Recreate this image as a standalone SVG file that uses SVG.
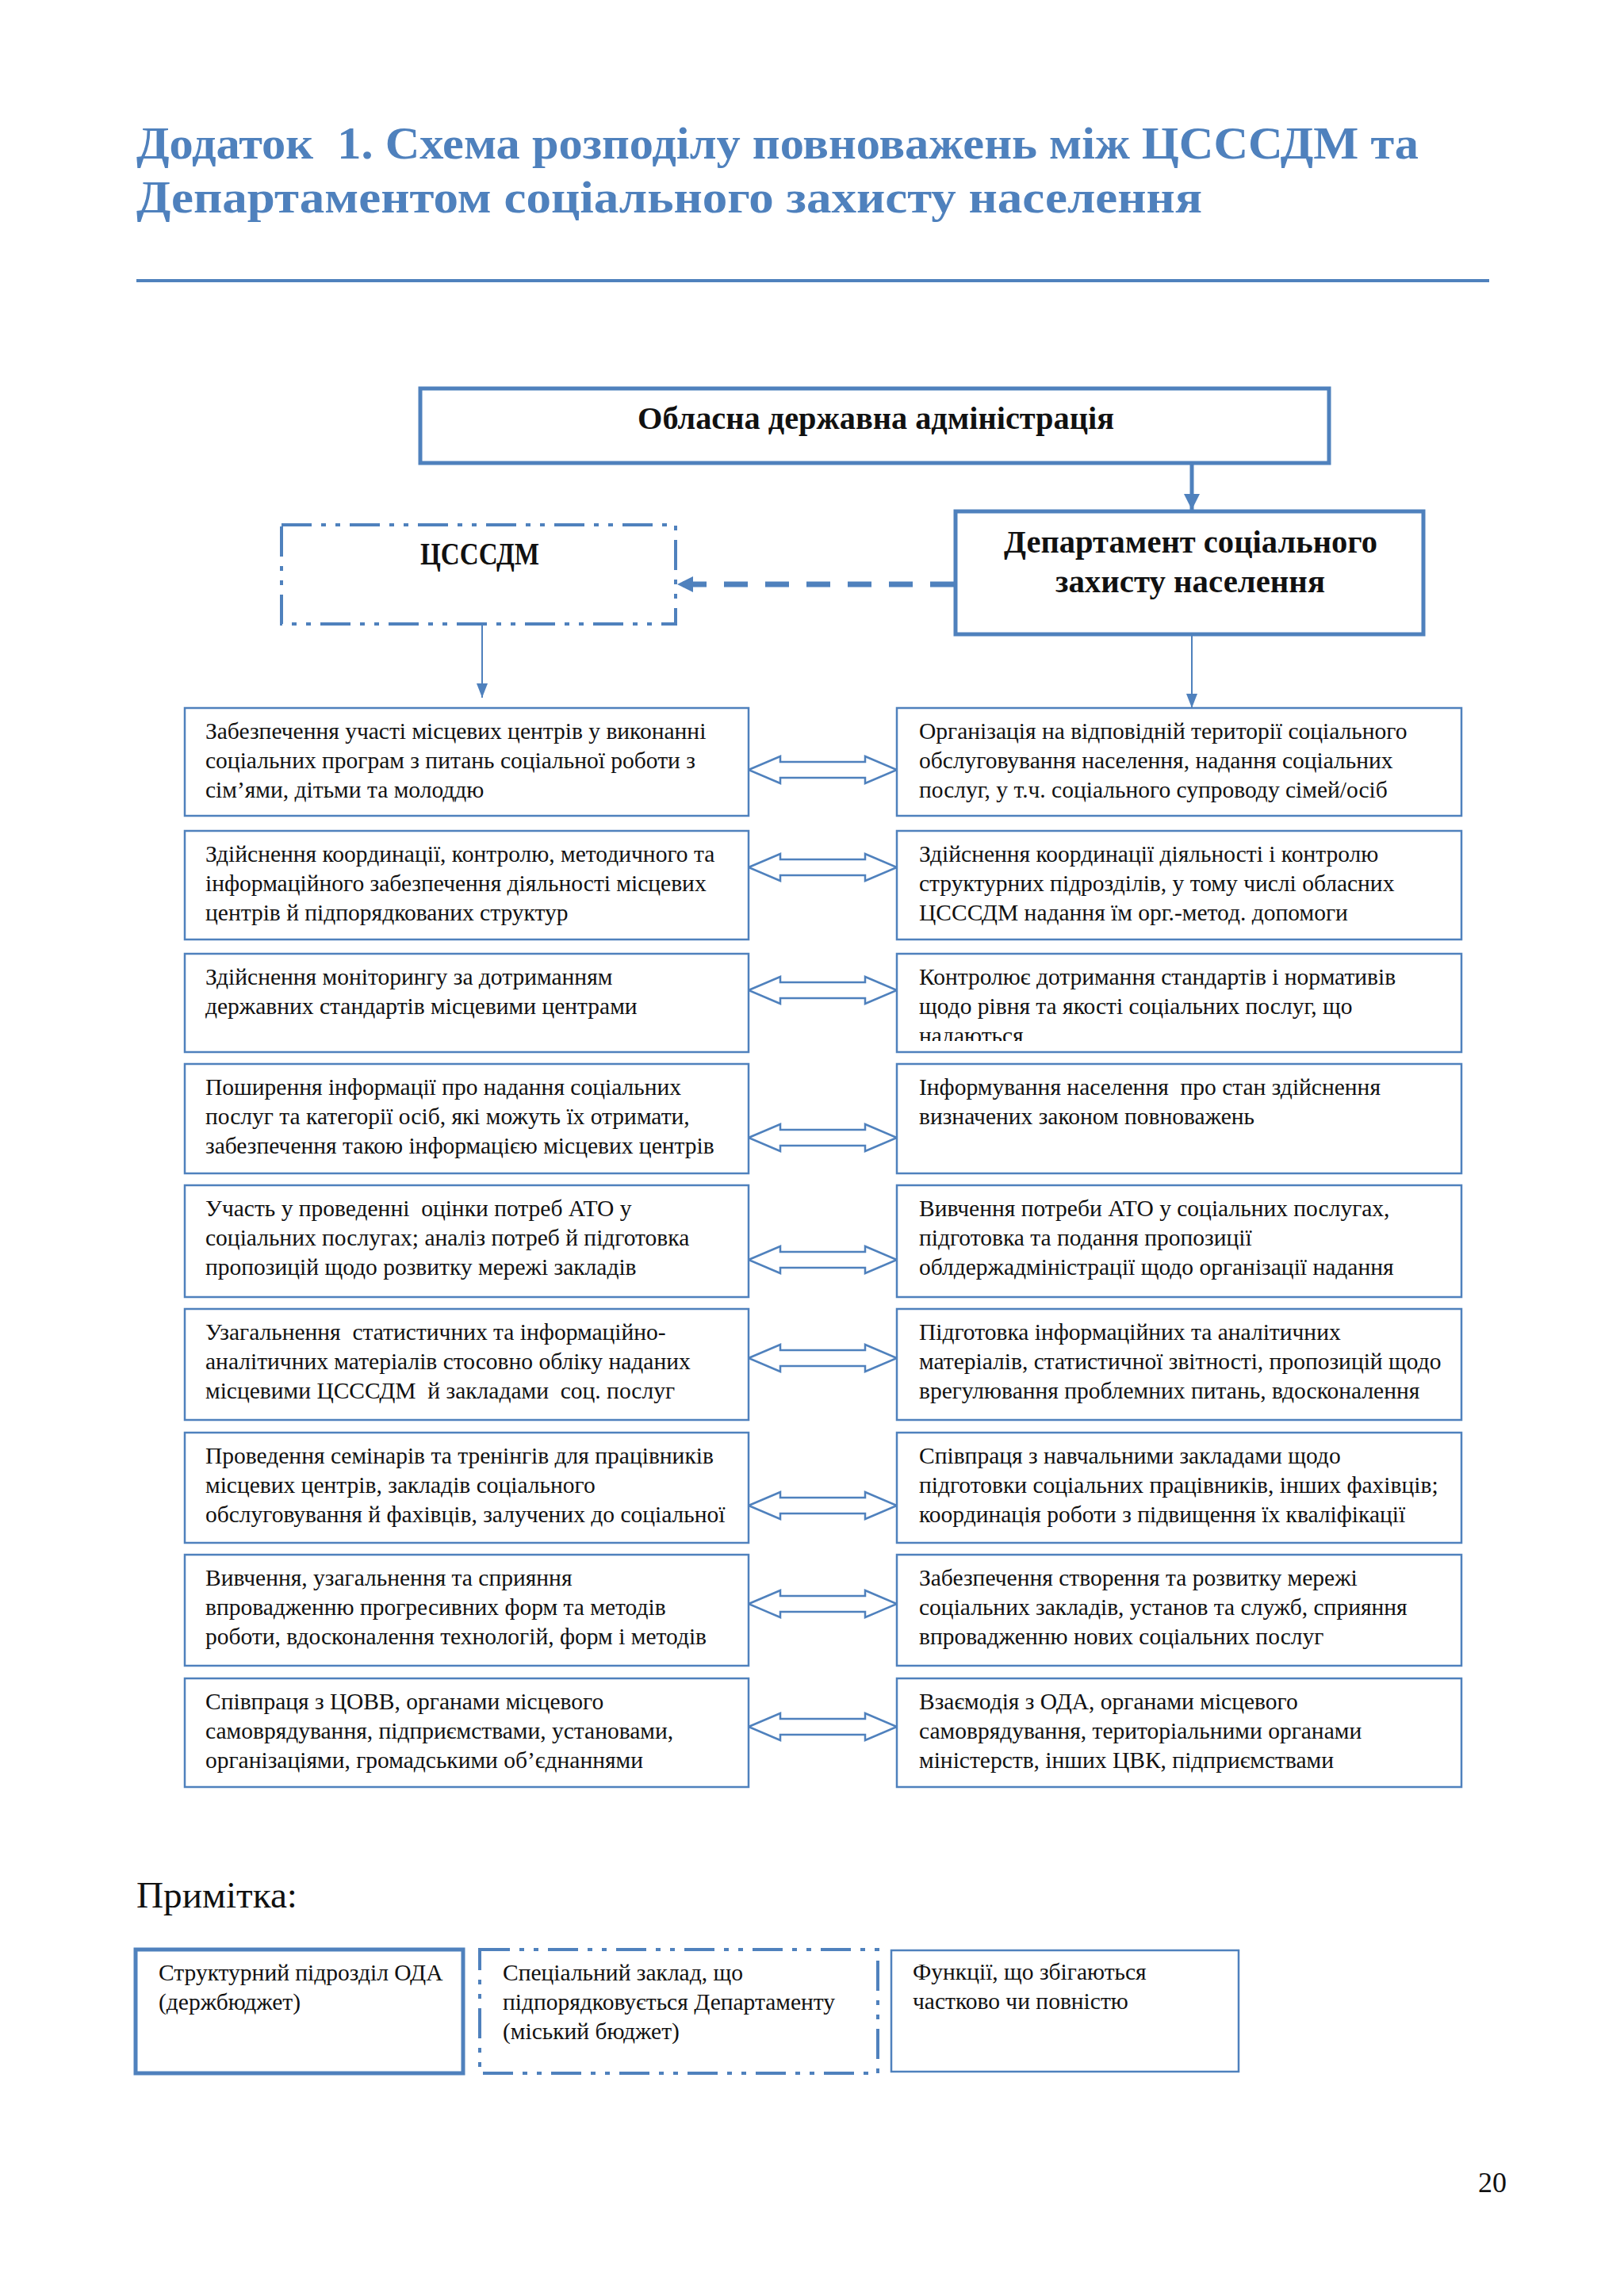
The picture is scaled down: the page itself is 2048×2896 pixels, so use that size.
<svg xmlns="http://www.w3.org/2000/svg" width="2048" height="2896" viewBox="0 0 2048 2896">
<defs>
<style>
.title{font-family:"Liberation Serif","DejaVu Serif",serif;font-weight:bold;font-size:56px;fill:#4F81BD}
.hdr{font-family:"Liberation Serif","DejaVu Serif",serif;font-weight:bold;font-size:40px;fill:#111}
.t{font-family:"Liberation Serif","DejaVu Serif",serif;font-size:29.5px;fill:#111;white-space:pre}
.box{fill:#fff;stroke:#4F81BD;stroke-width:2.5}
.thick{fill:#fff;stroke:#4F81BD;stroke-width:5}
.dd{fill:none;stroke:#4F81BD;stroke-width:4;stroke-dasharray:38 12 6 12 6 12}
.dbl{fill:#fff;stroke:#4F81BD;stroke-width:2.5;stroke-linejoin:miter}
.note{font-family:"Liberation Serif","DejaVu Serif",serif;font-size:46px;fill:#111}
</style>
<marker id="ah" markerUnits="userSpaceOnUse" markerWidth="20" markerHeight="24" refX="20" refY="12" orient="auto"><path d="M0,2 L20,12 L0,22 Z" fill="#4F81BD"/></marker>
<marker id="ahs" markerUnits="userSpaceOnUse" markerWidth="18" markerHeight="16" refX="18" refY="8" orient="auto"><path d="M0,1 L18,8 L0,15 Z" fill="#4F81BD"/></marker>
<clipPath id="c3r"><rect x="1131" y="1203" width="712" height="110"/></clipPath>
</defs>
<rect width="2048" height="2896" fill="#fff"/>
<g id="title">
<text class="title" x="172" y="200" textLength="1617" lengthAdjust="spacingAndGlyphs" style="white-space:pre">Додаток  1. Схема розподілу повноважень між ЦСССДМ та</text>
<text class="title" x="172" y="268" textLength="1344" lengthAdjust="spacingAndGlyphs">Департаментом соціального захисту населення</text>
<rect x="172" y="352" width="1706" height="4" fill="#4F81BD"/>
</g>
<g id="connectors">
<line x1="1503" y1="586" x2="1503" y2="643" stroke="#4F81BD" stroke-width="5" marker-end="url(#ah)"/>
<line x1="1203" y1="737" x2="854" y2="737" stroke="#4F81BD" stroke-width="7" stroke-dasharray="30 22" marker-end="url(#ah)"/>
<line x1="608" y1="789" x2="608" y2="880" stroke="#4F81BD" stroke-width="2" marker-end="url(#ahs)"/>
<line x1="1503" y1="802" x2="1503" y2="893" stroke="#4F81BD" stroke-width="2" marker-end="url(#ahs)"/>
<path class="dbl" d="M944,971 L984,954 L984,961 L1091,961 L1091,954 L1131,971 L1091,988 L1091,981 L984,981 L984,988 Z"/>
<path class="dbl" d="M944,1094 L984,1077 L984,1084 L1091,1084 L1091,1077 L1131,1094 L1091,1111 L1091,1104 L984,1104 L984,1111 Z"/>
<path class="dbl" d="M944,1249 L984,1232 L984,1239 L1091,1239 L1091,1232 L1131,1249 L1091,1266 L1091,1259 L984,1259 L984,1266 Z"/>
<path class="dbl" d="M944,1435 L984,1418 L984,1425 L1091,1425 L1091,1418 L1131,1435 L1091,1452 L1091,1445 L984,1445 L984,1452 Z"/>
<path class="dbl" d="M944,1589 L984,1572 L984,1579 L1091,1579 L1091,1572 L1131,1589 L1091,1606 L1091,1599 L984,1599 L984,1606 Z"/>
<path class="dbl" d="M944,1713 L984,1696 L984,1703 L1091,1703 L1091,1696 L1131,1713 L1091,1730 L1091,1723 L984,1723 L984,1730 Z"/>
<path class="dbl" d="M944,1899 L984,1882 L984,1889 L1091,1889 L1091,1882 L1131,1899 L1091,1916 L1091,1909 L984,1909 L984,1916 Z"/>
<path class="dbl" d="M944,2023 L984,2006 L984,2013 L1091,2013 L1091,2006 L1131,2023 L1091,2040 L1091,2033 L984,2033 L984,2040 Z"/>
<path class="dbl" d="M944,2178 L984,2161 L984,2168 L1091,2168 L1091,2161 L1131,2178 L1091,2195 L1091,2188 L984,2188 L984,2195 Z"/>
</g>
<g id="oda">
<rect class="thick" x="530" y="490" width="1146" height="94"/>
<text class="hdr" x="804" y="541" textLength="601" lengthAdjust="spacingAndGlyphs">Обласна державна адміністрація</text>
</g>
<g id="dept">
<rect class="thick" x="1205" y="645" width="590" height="155"/>
<text class="hdr" x="1266" y="697" textLength="471" lengthAdjust="spacingAndGlyphs">Департамент соціального</text>
<text class="hdr" x="1331" y="747" textLength="340" lengthAdjust="spacingAndGlyphs">захисту населення</text>
</g>
<g id="cssdm">
<rect class="dd" x="355" y="662" width="497" height="125"/>
<text class="hdr" x="530" y="712" textLength="150" lengthAdjust="spacingAndGlyphs">ЦСССДМ</text>
</g>
<g id="l1"><rect class="box" x="233" y="893" width="711" height="136"/>
<text class="t" x="259" y="932">Забезпечення участі місцевих центрів у виконанні</text>
<text class="t" x="259" y="969">соціальних програм з питань соціальної роботи з</text>
<text class="t" x="259" y="1006">сім’ями, дітьми та молоддю</text></g>
<g id="r1"><rect class="box" x="1131" y="893" width="712" height="136"/>
<text class="t" x="1159" y="932">Організація на відповідній території соціального</text>
<text class="t" x="1159" y="969">обслуговування населення, надання соціальних</text>
<text class="t" x="1159" y="1006">послуг, у т.ч. соціального супроводу сімей/осіб</text></g>
<g id="l2"><rect class="box" x="233" y="1048" width="711" height="137"/>
<text class="t" x="259" y="1087">Здійснення координації, контролю, методичного та</text>
<text class="t" x="259" y="1124">інформаційного забезпечення діяльності місцевих</text>
<text class="t" x="259" y="1161">центрів й підпорядкованих структур</text></g>
<g id="r2"><rect class="box" x="1131" y="1048" width="712" height="137"/>
<text class="t" x="1159" y="1087">Здійснення координації діяльності і контролю</text>
<text class="t" x="1159" y="1124">структурних підрозділів, у тому числі обласних</text>
<text class="t" x="1159" y="1161">ЦСССДМ надання їм орг.-метод. допомоги</text></g>
<g id="l3"><rect class="box" x="233" y="1203" width="711" height="124"/>
<text class="t" x="259" y="1242">Здійснення моніторингу за дотриманням</text>
<text class="t" x="259" y="1279">державних стандартів місцевими центрами</text></g>
<g id="r3"><rect class="box" x="1131" y="1203" width="712" height="124"/>
<g clip-path="url(#c3r)">
<text class="t" x="1159" y="1242">Контролює дотримання стандартів і нормативів</text>
<text class="t" x="1159" y="1279">щодо рівня та якості соціальних послуг, що</text>
<text class="t" x="1159" y="1316">надаються</text></g></g>
<g id="l4"><rect class="box" x="233" y="1342" width="711" height="138"/>
<text class="t" x="259" y="1381">Поширення інформації про надання соціальних</text>
<text class="t" x="259" y="1418">послуг та категорії осіб, які можуть їх отримати,</text>
<text class="t" x="259" y="1455">забезпечення такою інформацією місцевих центрів</text></g>
<g id="r4"><rect class="box" x="1131" y="1342" width="712" height="138"/>
<text class="t" x="1159" y="1381">Інформування населення  про стан здійснення</text>
<text class="t" x="1159" y="1418">визначених законом повноважень</text></g>
<g id="l5"><rect class="box" x="233" y="1495" width="711" height="141"/>
<text class="t" x="259" y="1534">Участь у проведенні  оцінки потреб АТО у</text>
<text class="t" x="259" y="1571">соціальних послугах; аналіз потреб й підготовка</text>
<text class="t" x="259" y="1608">пропозицій щодо розвитку мережі закладів</text></g>
<g id="r5"><rect class="box" x="1131" y="1495" width="712" height="141"/>
<text class="t" x="1159" y="1534">Вивчення потреби АТО у соціальних послугах,</text>
<text class="t" x="1159" y="1571">підготовка та подання пропозиції</text>
<text class="t" x="1159" y="1608">облдержадміністрації щодо організації надання</text></g>
<g id="l6"><rect class="box" x="233" y="1651" width="711" height="140"/>
<text class="t" x="259" y="1690">Узагальнення  статистичних та інформаційно-</text>
<text class="t" x="259" y="1727">аналітичних матеріалів стосовно обліку наданих</text>
<text class="t" x="259" y="1764">місцевими ЦСССДМ  й закладами  соц. послуг</text></g>
<g id="r6"><rect class="box" x="1131" y="1651" width="712" height="140"/>
<text class="t" x="1159" y="1690">Підготовка інформаційних та аналітичних</text>
<text class="t" x="1159" y="1727">матеріалів, статистичної звітності, пропозицій щодо</text>
<text class="t" x="1159" y="1764">врегулювання проблемних питань, вдосконалення</text></g>
<g id="l7"><rect class="box" x="233" y="1807" width="711" height="139"/>
<text class="t" x="259" y="1846">Проведення семінарів та тренінгів для працівників</text>
<text class="t" x="259" y="1883">місцевих центрів, закладів соціального</text>
<text class="t" x="259" y="1920">обслуговування й фахівців, залучених до соціальної</text></g>
<g id="r7"><rect class="box" x="1131" y="1807" width="712" height="139"/>
<text class="t" x="1159" y="1846">Співпраця з навчальними закладами щодо</text>
<text class="t" x="1159" y="1883">підготовки соціальних працівників, інших фахівців;</text>
<text class="t" x="1159" y="1920">координація роботи з підвищення їх кваліфікації</text></g>
<g id="l8"><rect class="box" x="233" y="1961" width="711" height="140"/>
<text class="t" x="259" y="2000">Вивчення, узагальнення та сприяння</text>
<text class="t" x="259" y="2037">впровадженню прогресивних форм та методів</text>
<text class="t" x="259" y="2074">роботи, вдосконалення технологій, форм і методів</text></g>
<g id="r8"><rect class="box" x="1131" y="1961" width="712" height="140"/>
<text class="t" x="1159" y="2000">Забезпечення створення та розвитку мережі</text>
<text class="t" x="1159" y="2037">соціальних закладів, установ та служб, сприяння</text>
<text class="t" x="1159" y="2074">впровадженню нових соціальних послуг</text></g>
<g id="l9"><rect class="box" x="233" y="2117" width="711" height="137"/>
<text class="t" x="259" y="2156">Співпраця з ЦОВВ, органами місцевого</text>
<text class="t" x="259" y="2193">самоврядування, підприємствами, установами,</text>
<text class="t" x="259" y="2230">організаціями, громадськими об’єднаннями</text></g>
<g id="r9"><rect class="box" x="1131" y="2117" width="712" height="137"/>
<text class="t" x="1159" y="2156">Взаємодія з ОДА, органами місцевого</text>
<text class="t" x="1159" y="2193">самоврядування, територіальними органами</text>
<text class="t" x="1159" y="2230">міністерств, інших ЦВК, підприємствами</text></g>
<g id="note">
<text class="note" x="172" y="2406" textLength="203" lengthAdjust="spacingAndGlyphs">Примітка:</text>
</g>
<g id="legend1"><rect class="thick" x="171" y="2459" width="413" height="156"/>
<text class="t" x="200" y="2498">Структурний підрозділ ОДА</text>
<text class="t" x="200" y="2535">(держбюджет)</text></g>
<g id="legend2"><rect class="dd" x="605" y="2459" width="502" height="156"/>
<text class="t" x="634" y="2498">Спеціальний заклад, що</text>
<text class="t" x="634" y="2535">підпорядковується Департаменту</text>
<text class="t" x="634" y="2572">(міський бюджет)</text></g>
<g id="legend3"><rect class="box" x="1124" y="2460" width="438" height="153"/>
<text class="t" x="1151" y="2497">Функції, що збігаються</text>
<text class="t" x="1151" y="2534">частково чи повністю</text></g>
<text x="1882" y="2765" text-anchor="middle" style="font-family:'Liberation Serif','DejaVu Serif',serif;font-size:36px;fill:#111">20</text>
</svg>
